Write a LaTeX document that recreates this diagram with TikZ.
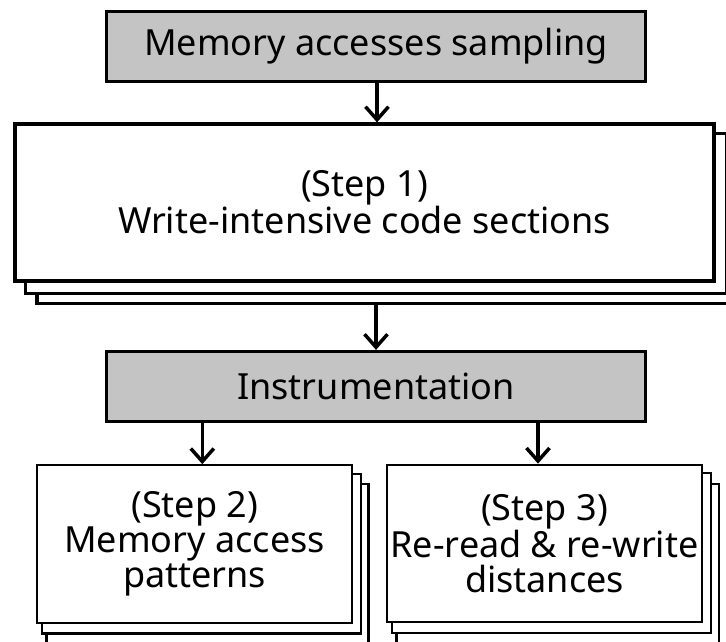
\documentclass[tikz,border=0pt]{standalone}
\usepackage{fontspec}
\setmainfont{Noto Sans}
\usetikzlibrary{arrows.meta,backgrounds}
\definecolor{boxgray}{RGB}{196,196,196}
\begin{document}
\begin{tikzpicture}[x=1pt,y=-1pt,
  every node/.style={font=\fontsize{36}{35}\selectfont, inner sep=0pt, align=center},
  graybox/.style={draw, line width=3.3pt, fill=boxgray, minimum width=539pt, minimum height=70pt},
  bigstack/.style={draw, line width=3.3pt, fill=white, minimum width=699pt, minimum height=157pt},
  smallstack/.style={draw, line width=2.2pt, fill=white, minimum width=315pt, minimum height=157.5pt},
  layerthick/.style={draw, line width=3.3pt, fill=white},
  layerthin/.style={draw, line width=2.2pt, fill=white},
  arr/.style={line width=3.5pt, -{Straight Barb[length=13pt,width=23pt]}}
]
\useasboundingbox (0,0) rectangle (726,641);
\clip (0,0) rectangle (726,641);

\node[graybox] (top) at (376,46.5) {Memory accesses sampling};
\node[bigstack] (s1) at (364.5,202.5) {(Step 1)\\Write-intensive code sections};
\node[graybox] (instr) at (376,386.5) {Instrumentation};
\node[smallstack] (s2) at (194.6,544) {(Step 2)\\Memory access\\patterns};
\node[smallstack] (s3) at (544.5,543.5) {(Step 3)\\Re-read \& re-write\\distances};

\begin{scope}[on background layer]
  \fill[white] (0,0) rectangle (726,641);
  % step 1 layers
  \draw[layerthick] ([shift={(23.5pt,-21pt)}]s1.north west) rectangle ([shift={(22pt,-21pt)}]s1.south east);
  \draw[layerthick] ([shift={(12pt,-11pt)}]s1.north west) rectangle ([shift={(11pt,-11pt)}]s1.south east);
  % step 2 layers
  \draw[layerthin] ([shift={(10.5pt,-20pt)}]s2.north west) rectangle ([shift={(15.2pt,-20pt)}]s2.south east);
  \draw[layerthin] ([shift={(5.8pt,-9.7pt)}]s2.north west) rectangle ([shift={(7.5pt,-9.7pt)}]s2.south east);
  % step 3 layers
  \draw[layerthin] ([shift={(10.5pt,-20pt)}]s3.north west) rectangle ([shift={(15.5pt,-20pt)}]s3.south east);
  \draw[layerthin] ([shift={(5.8pt,-9.5pt)}]s3.north west) rectangle ([shift={(7.6pt,-9.5pt)}]s3.south east);
\end{scope}

\coordinate (s1b) at ([yshift=-21pt]s1.south);
\draw[arr] (top.south -| 377,0) -- (s1.north -| 377,0);
\draw[arr] (s1b -| 376,0) -- (instr.north -| 376,0);
\draw[arr] (instr.south -| 202.3,0) -- (s2.north -| 202.3,0);
\draw[arr] (instr.south -| 538,0) -- (s3.north -| 538,0);
\end{tikzpicture}
\end{document}
